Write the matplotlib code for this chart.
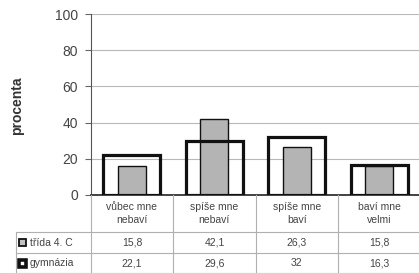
import numpy as np
import matplotlib.pyplot as plt
from matplotlib.patches import Rectangle

plt.rcParams['font.family'] = ['Liberation Sans', 'DejaVu Sans']

kategorie = ['vůbec mne\nnebaví', 'spíše mne\nnebaví', 'spíše mne\nbaví', 'baví mne\nvelmi']
trida = [15.8, 42.1, 26.3, 15.8]
gymnazia = [22.1, 29.6, 32, 16.3]
nazvy = ['třída 4. C', 'gymnázia']

W, H = 419, 273
fig = plt.figure(figsize=(W / 100, H / 100), dpi=100)
ax = fig.add_axes([90.7 / W, 1 - 195 / H, 330 / W, 181 / H])

x = np.arange(len(kategorie))
ax.bar(x, trida, width=0.34, color='#b4b4b4', edgecolor='#111111', linewidth=1, zorder=2)
ax.bar(x, gymnazia, width=0.69, facecolor='none', edgecolor='#111111', linewidth=2.3, zorder=3)

ax.set_xlim(-0.5, len(kategorie) - 0.5)
ax.set_ylim(0, 100)
ax.set_yticks(range(0, 101, 20))
ax.tick_params(axis='y', labelsize=10, labelcolor='#444444', length=4, width=0.8,
               color='#666666', pad=5)
ax.set_xticks([])
ax.yaxis.grid(True, color='#b8b8b8', linewidth=0.8, zorder=0)
for s in ['top', 'right']:
    ax.spines[s].set_visible(False)
ax.spines['left'].set_color('#555555')
ax.spines['bottom'].set_color('#222222')
ax.spines['bottom'].set_linewidth(1.2)

fig.text(17 / W, 1 - 106 / H, 'procenta', rotation=90, ha='center', va='center',
         fontsize=10, fontweight='bold', color='#333333')

# tabulka pod grafem (v pixelech obrazku)
lc = '#b0b0b0'
def px(xp, yp):
    return xp / W, 1 - yp / H

col_w = 330 / len(kategorie)
x0 = 90.7
row_y = [195, 232, 253, 273]
for i in range(len(kategorie) + 1):
    xx = x0 + i * col_w
    fig.add_artist(plt.Line2D([xx / W, xx / W], [1 - 195 / H, 1 - 273 / H],
                              color=lc, linewidth=0.8))
fig.add_artist(plt.Line2D([16 / W, 16 / W], [1 - 232 / H, 0], color=lc, linewidth=0.8))
for yy in row_y[1:]:
    fig.add_artist(plt.Line2D([16 / W, 421 / W], [1 - yy / H, 1 - yy / H],
                              color=lc, linewidth=0.8))

for i, k in enumerate(kategorie):
    cx = x0 + (i + 0.5) * col_w
    fig.text(*px(cx, 213.5), k, ha='center', va='center', fontsize=7.5,
             color='#444444', linespacing=1.45)
    for r, vals in enumerate([trida, gymnazia]):
        s = ('%g' % vals[i]).replace('.', ',')
        fig.text(*px(cx, (row_y[r + 1] + row_y[r + 2]) / 2), s, ha='center',
                 va='center', fontsize=7.5, color='#444444')

for r, name in enumerate(nazvy):
    yc = (row_y[r + 1] + row_y[r + 2]) / 2
    if r == 0:
        fig.add_artist(Rectangle(px(19, yc + 3.5), 7 / W, 7 / H, facecolor='#c0c0c0',
                                 edgecolor='#111111', linewidth=1.3))
    else:
        fig.add_artist(Rectangle(px(19, yc + 3.5), 7 / W, 7 / H, facecolor='white',
                                 edgecolor='#111111', linewidth=2.6))
    fig.text(*px(30, yc), name, ha='left', va='center', fontsize=7.5, color='#444444')

plt.savefig('out.png', dpi=100)
